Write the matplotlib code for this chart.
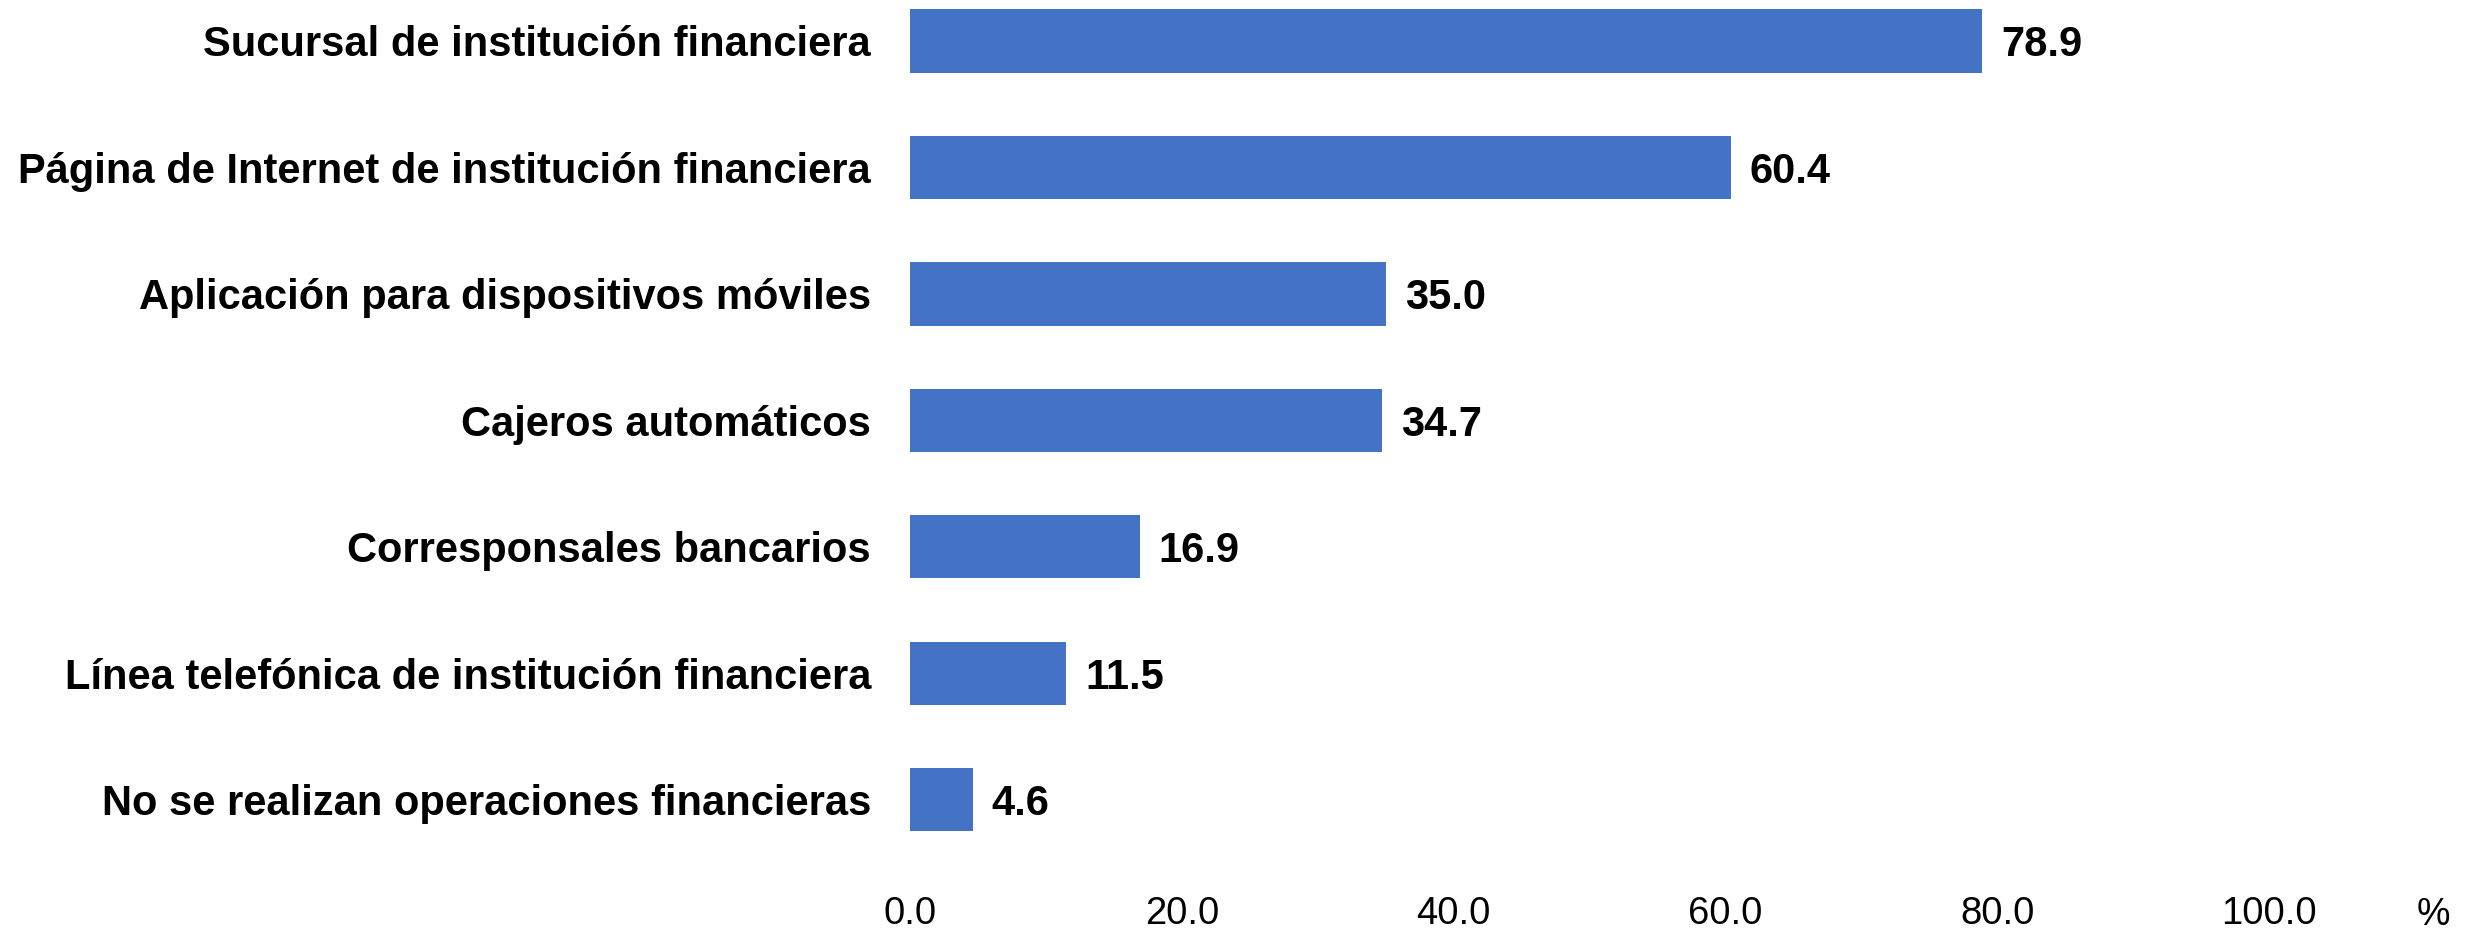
import matplotlib
matplotlib.use("Agg")
import matplotlib.pyplot as plt

categories = [
    "Sucursal de institución financiera",
    "Página de Internet de institución financiera",
    "Aplicación para dispositivos móviles",
    "Cajeros automáticos",
    "Corresponsales bancarios",
    "Línea telefónica de institución financiera",
    "No se realizan operaciones financieras",
]
values = [78.9, 60.4, 35.0, 34.7, 16.9, 11.5, 4.6]
xticks = [0, 20, 40, 60, 80, 100]
xtick_labels = ["0.0", "20.0", "40.0", "60.0", "80.0", "100.0"]

plt.rcParams['font.family'] = ['Liberation Sans', 'DejaVu Sans']

W, H = 2478, 933
fig = plt.figure(figsize=(W / 100, H / 100), dpi=100)
left = 910 / W
width = 1359 / W
bottom = 1 - 863 / H
ax = fig.add_axes([left, bottom, width, 1 - bottom])

ypos = list(range(len(categories)))
ax.barh(ypos, values, height=0.5, color="#4472C4")
ax.set_xlim(0, 100)
ax.set_ylim(6.5, -0.324)
ax.set_yticks(ypos)
ax.set_yticklabels(categories, fontsize=30, fontweight="bold")
ax.set_xticks(xticks)
ax.set_xticklabels(xtick_labels, fontsize=27.5)
ax.tick_params(axis="y", length=0, pad=28)
ax.tick_params(axis="x", length=0, pad=24)
for s in ax.spines.values():
    s.set_visible(False)

for y, v in zip(ypos, values):
    ax.text(v + 1.4, y, f"{v:.1f}", va="center_baseline", ha="left",
            fontsize=30, fontweight="bold")

fig.text(2433 / W, 1 - 915 / H, "%", ha="center", va="center", fontsize=27)

fig.savefig("out.png", dpi=100)
